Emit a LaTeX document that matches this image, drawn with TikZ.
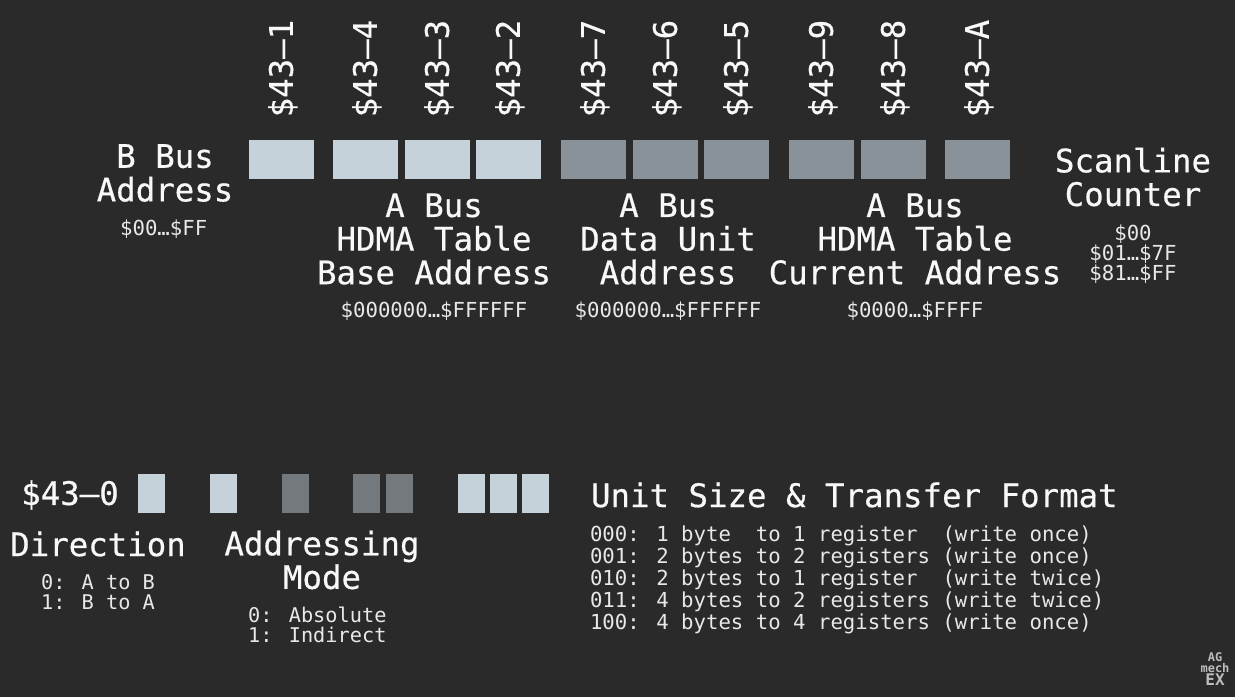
\documentclass[tikz,border=0pt]{standalone}
\usepackage{fontspec}
\setmainfont{DejaVu Sans Mono}
\newfontfamily\headfont[FakeBold=0.5]{DejaVu Sans Mono}
\usetikzlibrary{positioning}
\definecolor{PanelDark}{HTML}{2A2A2A}
\definecolor{BitLight}{HTML}{C6D2D9}
\definecolor{BitMid}{HTML}{8A9299}
\definecolor{BitDim}{HTML}{73797C}
\definecolor{TextMain}{HTML}{F8F8F8}
\definecolor{TextSmall}{HTML}{E8E8E8}
\definecolor{LogoGrey}{HTML}{BDBDBD}

\begin{document}
\begin{tikzpicture}[x=0.75pt, y=-0.75pt, node distance=10pt,
    every node/.style={inner sep=0pt, outer sep=0pt},
    wide/.style={minimum width=48.75pt, minimum height=29.25pt, anchor=north west},
    slim/.style={minimum width=19.9pt, minimum height=29.25pt, anchor=north west},
    reglabel/.style={rotate=90, anchor=west, text=TextMain, font=\headfont\fontsize{24.3}{25.2}\selectfont, text height=17pt, text depth=0pt},
    heading/.style={text=TextMain, align=center, font=\headfont\fontsize{24.3}{25.2}\selectfont},
    span/.style={text=TextSmall, align=center, font=\fontsize{15.5}{15}\selectfont},
    bitlist/.style={text=TextSmall, align=left, font=\fontsize{15.2}{15}\selectfont},
    listing/.style={text=TextSmall, align=left, font=\fontsize{15.5}{16.5}\selectfont}]
    \useasboundingbox (0,0) rectangle (1235,697);
    \fill[PanelDark] (0,0) rectangle (1235,697);

    % word registers
    \node[wide, fill=BitLight] (regB) at (249,140) {};
    \node[wide, fill=BitLight] (regT4) at (333,140) {};
    \node[wide, fill=BitLight] (regT3) at (405,140) {};
    \node[wide, fill=BitLight] (regT2) at (476,140) {};
    \node[wide, fill=BitMid] (regD7) at (561,140) {};
    \node[wide, fill=BitMid] (regD6) at (633,140) {};
    \node[wide, fill=BitMid] (regD5) at (704,140) {};
    \node[wide, fill=BitMid] (regC9) at (789,140) {};
    \node[wide, fill=BitMid] (regC8) at (861,140) {};
    \node[wide, fill=BitMid] (regCA) at (945,140) {};

    \node[reglabel] (lblB) at ([yshift=17pt]regB.north) {\$43–1};
    \node[reglabel] (lblT4) at ([yshift=17pt]regT4.north) {\$43–4};
    \node[reglabel] (lblT3) at ([yshift=17pt]regT3.north) {\$43–3};
    \node[reglabel] (lblT2) at ([yshift=17pt]regT2.north) {\$43–2};
    \node[reglabel] (lblD7) at ([yshift=17pt]regD7.north) {\$43–7};
    \node[reglabel] (lblD6) at ([yshift=17pt]regD6.north) {\$43–6};
    \node[reglabel] (lblD5) at ([yshift=17pt]regD5.north) {\$43–5};
    \node[reglabel] (lblC9) at ([yshift=17pt]regC9.north) {\$43–9};
    \node[reglabel] (lblC8) at ([yshift=17pt]regC8.north) {\$43–8};
    \node[reglabel] (lblCA) at ([yshift=17pt]regCA.north) {\$43–A};

    \node[heading] (bBus) at (165,173) {B Bus\\Address};
    \node[span, below=13.5pt of bBus, xshift=-1pt] (bRange) {\$00…\$FF};
    \node[heading] (tableBase) at (434,239) {A Bus\\HDMA Table\\Base Address};
    \node[span, below=13pt of tableBase] (tableRange) {\$000000…\$FFFFFF};
    \node[heading] (dataUnit) at (668,239) {A Bus\\Data Unit\\Address};
    \node[span, below=13pt of dataUnit] (dataRange) {\$000000…\$FFFFFF};
    \node[heading] (tableCur) at (915,239) {A Bus\\HDMA Table\\Current Address};
    \node[span, below=13pt of tableCur] (curRange) {\$0000…\$FFFF};
    \node[heading] (scanline) at (1133,177) {Scanline\\Counter};
    \node[span, below=13.5pt of scanline] (scanRange) {\$00\\\$01…\$7F\\\$81…\$FF};

    % control register bits
    \node[heading] (ctrl) at (70,495) {\$43–0};
    \node[slim, fill=BitLight] (bitDir) at (138,474) {};
    \node[slim, fill=BitLight] (bitInd) at (210,474) {};
    \node[slim, fill=BitDim] (bitFive) at (282,474) {};
    \node[slim, fill=BitDim] (bitFour) at (353,474) {};
    \node[slim, fill=BitDim] (bitThree) at (386,474) {};
    \node[slim, fill=BitLight] (bitTwo) at (458,474) {};
    \node[slim, fill=BitLight] (bitOne) at (490,474) {};
    \node[slim, fill=BitLight] (bitZero) at (522,474) {};

    \node[heading] (direction) at (98,544) {Direction};
    \node[bitlist, below=13.5pt of direction] (dirList) {0: A to B\\1: B to A};
    \node[heading] (addrMode) at (322,560) {Addressing\\Mode};
    \node[bitlist, below=13.5pt of addrMode, xshift=-3.5pt] (modeList) {0: Absolute\\1: Indirect};
    \node[heading, anchor=west] (unitSize) at (591,495) {Unit Size \& Transfer Format};
    \node[listing, anchor=north west] (unitList) at (590,526) {000: 1 byte~ to 1 register~ (write once)\\001: 2 bytes to 2 registers (write once)\\010: 2 bytes to 1 register~ (write twice)\\011: 4 bytes to 2 registers (write twice)\\100: 4 bytes to 4 registers (write once)};

    \node[align=center, text=LogoGrey, font=\bfseries\fontsize{9}{8.5}\selectfont] (logo) at (1215,669) {AG\\mech\\{\fontsize{12}{8.5}\selectfont EX}};
\end{tikzpicture}
\end{document}
